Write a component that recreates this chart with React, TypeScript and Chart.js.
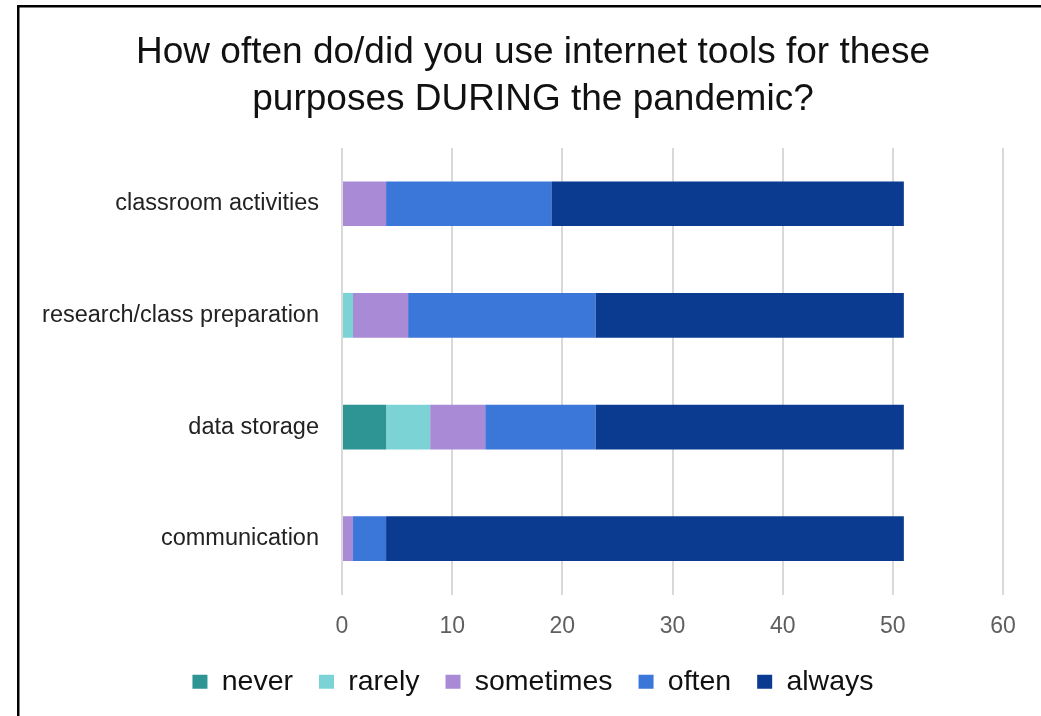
import React, { useEffect, useRef } from "react";
import { Chart, registerables } from "chart.js";

Chart.register(...registerables);

const categories = ["classroom activities", "research/class preparation", "data storage", "communication"];
const seriesNames = ["never", "rarely", "sometimes", "often", "always"];
const neverValues = [0, 0, 4, 0];
const rarelyValues = [0, 1, 4, 0];
const sometimesValues = [4, 5, 5, 1];
const oftenValues = [15, 17, 10, 3];
const alwaysValues = [32, 28, 28, 47];
const seriesColors = ["#2E9494", "#7CD3D6", "#A98AD6", "#3B76D9", "#0B3A91"];
const titleLines = ["How often do/did you use internet tools for these", "purposes DURING the pandemic?"];

const FONT = "'Liberation Sans', Arial, Helvetica, sans-serif";

const framePlugin = {
  id: "frame",
  afterLayout(chart: any) {
    // let long category labels extend to the left of the padded area without clipping
    if (chart.scales.y) chart.scales.y.left = 0;
  },
  afterDraw(chart: any) {
    const ctx = chart.ctx;
    ctx.save();
    ctx.fillStyle = "#000";
    ctx.fillRect(17, 5, 2.5, 711);
    ctx.fillRect(17, 5, 1024, 2.5);
    ctx.restore();
  },
};

export default function App() {
  const ref = useRef<HTMLCanvasElement | null>(null);
  useEffect(() => {
    document.body.style.margin = "0";
    const values = [neverValues, rarelyValues, sometimesValues, oftenValues, alwaysValues];
    const chart = new Chart(ref.current as HTMLCanvasElement, {
      type: "bar",
      data: {
        labels: categories,
        datasets: seriesNames.map((name, i) => ({
          label: name,
          data: values[i],
          backgroundColor: seriesColors[i],
          borderWidth: 0,
          barPercentage: 0.4,
          categoryPercentage: 1,
        })),
      },
      options: {
        indexAxis: "y",
        animation: false,
        responsive: false,
        layout: { padding: { left: 63, right: 38, top: 0, bottom: 10 } },
        scales: {
          x: {
            stacked: true,
            min: 0,
            max: 60,
            ticks: { stepSize: 10, color: "#5f5f5f", padding: 18, font: { family: FONT, size: 23 } },
            grid: { color: "#d9d9d9", lineWidth: 2, drawTicks: false },
            border: { display: false },
            afterFit(scale: any) {
              scale.height = 47;
            },
          },
          y: {
            stacked: true,
            ticks: { color: "#222", padding: 23, font: { family: FONT, size: 23.5 } },
            grid: { display: false, drawTicks: false },
            border: { display: false },
            afterFit(scale: any) {
              scale.width = 342 - 63;
            },
          },
        },
        plugins: {
          title: {
            display: true,
            text: titleLines,
            color: "#111",
            font: { family: FONT, size: 37, weight: "normal", lineHeight: 1.27 },
            padding: { top: 29.5, bottom: 24.5 },
          },
          legend: {
            position: "bottom",
            labels: {
              color: "#111",
              boxWidth: 15,
              boxHeight: 14,
              padding: 26,
              font: { family: FONT, size: 28.5 },
            },
          },
          tooltip: { enabled: false },
        },
      },
      plugins: [framePlugin],
    } as any);
    return () => chart.destroy();
  }, []);
  return <canvas ref={ref} width={1041} height={716} style={{ display: "block" }} />;
}
